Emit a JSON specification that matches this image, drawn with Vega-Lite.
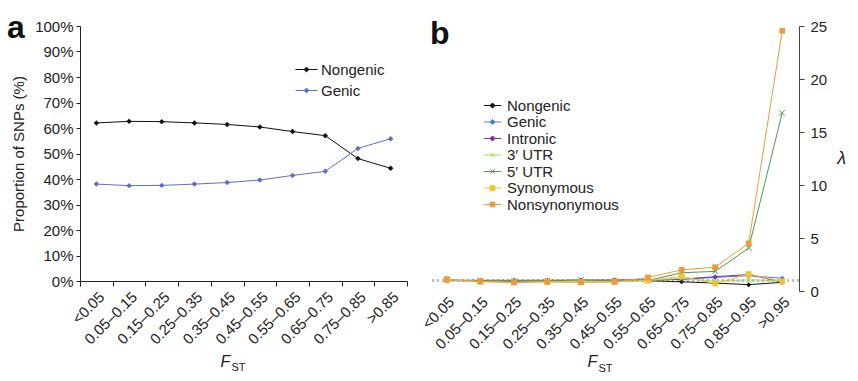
{
  "$schema": "https://vega.github.io/schema/vega-lite/v6.json",
  "background": "white",
  "padding": {"left": 7, "top": 12, "right": 5, "bottom": 5},
  "bounds": "flush",
  "spacing": 23,
  "config": {
    "font": "Liberation Sans",
    "view": {"stroke": null},
    "axis": {"labelFontSize": 15, "labelColor": "#222222", "titleColor": "#222222", "titleFontWeight": "normal", "titleFont": "Liberation Sans", "labelFont": "Liberation Sans", "domainColor": "#222222", "tickColor": "#222222", "grid": false, "labelOverlap": false, "labelFlush": false},
    "legend": {"labelFontSize": 15, "labelColor": "#222222", "labelFont": "Liberation Sans", "labelLimit": 300},
    "title": {"fontSize": 32, "fontWeight": "bold", "anchor": "start", "frame": "group", "color": "#111111", "font": "Liberation Sans"}
  },
  "resolve": {"scale": {"color": "independent", "x": "independent", "y": "independent"}},
  "hconcat": [
    {
      "title": {"text": "a", "dx": -73, "offset": -51, "baseline": "alphabetic"},
      "width": 327,
      "height": 255,
      "data": {"values": [
        {"bin": "<0.05", "series": "Nongenic", "pct": 62.0},
        {"bin": "0.05–0.15", "series": "Nongenic", "pct": 62.6},
        {"bin": "0.15–0.25", "series": "Nongenic", "pct": 62.5},
        {"bin": "0.25–0.35", "series": "Nongenic", "pct": 62.0},
        {"bin": "0.35–0.45", "series": "Nongenic", "pct": 61.4},
        {"bin": "0.45–0.55", "series": "Nongenic", "pct": 60.4},
        {"bin": "0.55–0.65", "series": "Nongenic", "pct": 58.6},
        {"bin": "0.65–0.75", "series": "Nongenic", "pct": 57.0},
        {"bin": "0.75–0.85", "series": "Nongenic", "pct": 48.0},
        {"bin": ">0.85", "series": "Nongenic", "pct": 44.2},
        {"bin": "<0.05", "series": "Genic", "pct": 38.0},
        {"bin": "0.05–0.15", "series": "Genic", "pct": 37.4},
        {"bin": "0.15–0.25", "series": "Genic", "pct": 37.5},
        {"bin": "0.25–0.35", "series": "Genic", "pct": 38.0},
        {"bin": "0.35–0.45", "series": "Genic", "pct": 38.6},
        {"bin": "0.45–0.55", "series": "Genic", "pct": 39.6},
        {"bin": "0.55–0.65", "series": "Genic", "pct": 41.4},
        {"bin": "0.65–0.75", "series": "Genic", "pct": 43.0},
        {"bin": "0.75–0.85", "series": "Genic", "pct": 52.0},
        {"bin": ">0.85", "series": "Genic", "pct": 55.8}
      ]},
      "resolve": {"axis": {"x": "independent"}},
      "encoding": {
        "y": {"field": "pct", "type": "quantitative", "scale": {"domain": [0, 100], "nice": false},
          "axis": {"values": [0, 10, 20, 30, 40, 50, 60, 70, 80, 90, 100], "labelOverlap": false, "labelSeparation": -20, "labelBound": false, "labelExpr": "datum.value + '%'", "tickSize": 4, "labelPadding": 3, "title": "Proportion of SNPs (%)", "titleFontSize": 15, "titlePadding": 8}},
        "color": {"field": "series", "type": "nominal", "scale": {"domain": ["Nongenic", "Genic"], "range": ["#111111", "#5b6fc6"]},
          "legend": {"orient": "none", "legendX": 218, "legendY": 35, "title": null, "symbolSize": 256, "labelOffset": 6, "rowPadding": 4,
            "encode": {"symbols": {"update": {
              "shape": {"value": "M-1.375,0H1.375M0,-0.3L0.3,0L0,0.3L-0.3,0Z"},
              "fill": {"signal": "datum.value === 'Genic' ? '#5b6fc6' : '#111111'"},
              "stroke": {"signal": "datum.value === 'Genic' ? '#5b6fc6' : '#111111'"},
              "strokeWidth": {"value": 1},
              "opacity": {"value": 1}}}}}}
      },
      "layer": [
        {
          "mark": {"type": "line", "strokeWidth": 1},
          "encoding": {
            "x": {"field": "bin", "type": "ordinal", "sort": ["<0.05", "0.05–0.15", "0.15–0.25", "0.25–0.35", "0.35–0.45", "0.45–0.55", "0.55–0.65", "0.65–0.75", "0.75–0.85", ">0.85"], "scale": {"type": "band", "paddingInner": 0, "paddingOuter": 0},
              "axis": {"orient": "bottom", "labelAngle": -45, "tickBand": "extent", "tickSize": 5, "labelPadding": 3, "labelOverlap": false, "title": "F", "titleFontStyle": "italic", "titleFontSize": 16, "titleX": 140, "titleY": 85, "titleAlign": "left", "titleBaseline": "alphabetic"}}
          }
        },
        {
          "mark": {"type": "point", "filled": true, "shape": "diamond", "size": 30, "opacity": 1},
          "encoding": {
            "x": {"field": "bin", "type": "ordinal", "sort": ["<0.05", "0.05–0.15", "0.15–0.25", "0.25–0.35", "0.35–0.45", "0.45–0.55", "0.55–0.65", "0.65–0.75", "0.75–0.85", ">0.85"], "scale": {"type": "band", "paddingInner": 0, "paddingOuter": 0}, "axis": null}
          }
        },
        {
          "mark": {"type": "point", "opacity": 0},
          "encoding": {
            "x": {"field": "bin", "type": "ordinal", "sort": ["<0.05", "0.05–0.15", "0.15–0.25", "0.25–0.35", "0.35–0.45", "0.45–0.55", "0.55–0.65", "0.65–0.75", "0.75–0.85", ">0.85"], "scale": {"type": "band", "paddingInner": 0, "paddingOuter": 0},
              "axis": {"orient": "bottom", "labels": false, "ticks": false, "domain": false, "title": "ST", "titleFontSize": 11, "titleX": 151, "titleY": 89, "titleAlign": "left", "titleBaseline": "alphabetic"}}
          }
        }
      ]
    },
    {
      "title": {"text": "b", "dx": 0, "offset": -57, "baseline": "alphabetic"},
      "width": 369,
      "height": 265,
      "data": {"values": [
        {"bin": "<0.05", "series": "Nongenic", "lambda": 1.0},
        {"bin": "0.05–0.15", "series": "Nongenic", "lambda": 1.0},
        {"bin": "0.15–0.25", "series": "Nongenic", "lambda": 1.0},
        {"bin": "0.25–0.35", "series": "Nongenic", "lambda": 1.0},
        {"bin": "0.35–0.45", "series": "Nongenic", "lambda": 1.0},
        {"bin": "0.45–0.55", "series": "Nongenic", "lambda": 1.0},
        {"bin": "0.55–0.65", "series": "Nongenic", "lambda": 0.97},
        {"bin": "0.65–0.75", "series": "Nongenic", "lambda": 0.87},
        {"bin": "0.75–0.85", "series": "Nongenic", "lambda": 0.75},
        {"bin": "0.85–0.95", "series": "Nongenic", "lambda": 0.6},
        {"bin": ">0.95", "series": "Nongenic", "lambda": 0.82},
        {"bin": "<0.05", "series": "Genic", "lambda": 1.0},
        {"bin": "0.05–0.15", "series": "Genic", "lambda": 1.0},
        {"bin": "0.15–0.25", "series": "Genic", "lambda": 1.0},
        {"bin": "0.25–0.35", "series": "Genic", "lambda": 1.0},
        {"bin": "0.35–0.45", "series": "Genic", "lambda": 1.0},
        {"bin": "0.45–0.55", "series": "Genic", "lambda": 1.02},
        {"bin": "0.55–0.65", "series": "Genic", "lambda": 1.03},
        {"bin": "0.65–0.75", "series": "Genic", "lambda": 1.1},
        {"bin": "0.75–0.85", "series": "Genic", "lambda": 1.28},
        {"bin": "0.85–0.95", "series": "Genic", "lambda": 1.45},
        {"bin": ">0.95", "series": "Genic", "lambda": 1.2},
        {"bin": "<0.05", "series": "Intronic", "lambda": 0.98},
        {"bin": "0.05–0.15", "series": "Intronic", "lambda": 0.98},
        {"bin": "0.15–0.25", "series": "Intronic", "lambda": 0.98},
        {"bin": "0.25–0.35", "series": "Intronic", "lambda": 1.0},
        {"bin": "0.35–0.45", "series": "Intronic", "lambda": 1.0},
        {"bin": "0.45–0.55", "series": "Intronic", "lambda": 1.03},
        {"bin": "0.55–0.65", "series": "Intronic", "lambda": 1.03},
        {"bin": "0.65–0.75", "series": "Intronic", "lambda": 1.12},
        {"bin": "0.75–0.85", "series": "Intronic", "lambda": 1.35},
        {"bin": "0.85–0.95", "series": "Intronic", "lambda": 1.55},
        {"bin": ">0.95", "series": "Intronic", "lambda": 0.85},
        {"bin": "<0.05", "series": "3′ UTR", "lambda": 1.0},
        {"bin": "0.05–0.15", "series": "3′ UTR", "lambda": 0.95},
        {"bin": "0.15–0.25", "series": "3′ UTR", "lambda": 0.93},
        {"bin": "0.25–0.35", "series": "3′ UTR", "lambda": 0.95},
        {"bin": "0.35–0.45", "series": "3′ UTR", "lambda": 1.02},
        {"bin": "0.45–0.55", "series": "3′ UTR", "lambda": 0.95},
        {"bin": "0.55–0.65", "series": "3′ UTR", "lambda": 1.0},
        {"bin": "0.65–0.75", "series": "3′ UTR", "lambda": 1.2},
        {"bin": "0.75–0.85", "series": "3′ UTR", "lambda": 0.92},
        {"bin": "0.85–0.95", "series": "3′ UTR", "lambda": 1.05},
        {"bin": ">0.95", "series": "3′ UTR", "lambda": 0.95},
        {"bin": "<0.05", "series": "5′ UTR", "lambda": 1.0},
        {"bin": "0.05–0.15", "series": "5′ UTR", "lambda": 0.95},
        {"bin": "0.15–0.25", "series": "5′ UTR", "lambda": 0.9},
        {"bin": "0.25–0.35", "series": "5′ UTR", "lambda": 0.95},
        {"bin": "0.35–0.45", "series": "5′ UTR", "lambda": 1.05},
        {"bin": "0.45–0.55", "series": "5′ UTR", "lambda": 0.95},
        {"bin": "0.55–0.65", "series": "5′ UTR", "lambda": 1.0},
        {"bin": "0.65–0.75", "series": "5′ UTR", "lambda": 1.72},
        {"bin": "0.75–0.85", "series": "5′ UTR", "lambda": 1.85},
        {"bin": "0.85–0.95", "series": "5′ UTR", "lambda": 4.05},
        {"bin": ">0.95", "series": "5′ UTR", "lambda": 16.8},
        {"bin": "<0.05", "series": "Synonymous", "lambda": 1.05},
        {"bin": "0.05–0.15", "series": "Synonymous", "lambda": 0.9},
        {"bin": "0.15–0.25", "series": "Synonymous", "lambda": 0.82},
        {"bin": "0.25–0.35", "series": "Synonymous", "lambda": 0.88},
        {"bin": "0.35–0.45", "series": "Synonymous", "lambda": 0.85},
        {"bin": "0.45–0.55", "series": "Synonymous", "lambda": 0.88},
        {"bin": "0.55–0.65", "series": "Synonymous", "lambda": 1.0},
        {"bin": "0.65–0.75", "series": "Synonymous", "lambda": 1.38},
        {"bin": "0.75–0.85", "series": "Synonymous", "lambda": 0.7},
        {"bin": "0.85–0.95", "series": "Synonymous", "lambda": 1.6},
        {"bin": ">0.95", "series": "Synonymous", "lambda": 0.9},
        {"bin": "<0.05", "series": "Nonsynonymous", "lambda": 1.13},
        {"bin": "0.05–0.15", "series": "Nonsynonymous", "lambda": 0.88},
        {"bin": "0.15–0.25", "series": "Nonsynonymous", "lambda": 0.8},
        {"bin": "0.25–0.35", "series": "Nonsynonymous", "lambda": 0.85},
        {"bin": "0.35–0.45", "series": "Nonsynonymous", "lambda": 0.82},
        {"bin": "0.45–0.55", "series": "Nonsynonymous", "lambda": 0.85},
        {"bin": "0.55–0.65", "series": "Nonsynonymous", "lambda": 1.28},
        {"bin": "0.65–0.75", "series": "Nonsynonymous", "lambda": 2.0},
        {"bin": "0.75–0.85", "series": "Nonsynonymous", "lambda": 2.25},
        {"bin": "0.85–0.95", "series": "Nonsynonymous", "lambda": 4.5},
        {"bin": ">0.95", "series": "Nonsynonymous", "lambda": 24.55}
      ]},
      "resolve": {"axis": {"x": "independent"}},
      "encoding": {
        "y": {"field": "lambda", "type": "quantitative", "scale": {"domain": [0, 25], "nice": false},
          "axis": {"orient": "right", "values": [0, 5, 10, 15, 20, 25], "labelOverlap": false, "tickSize": 5, "labelPadding": 6, "domainColor": "#444444", "tickColor": "#444444", "title": "λ", "titleAngle": 0, "titleFontSize": 18, "titleFontStyle": "italic", "titleAlign": "left", "titleBaseline": "middle", "titlePadding": 10}},
        "color": {"field": "series", "type": "nominal",
          "scale": {"domain": ["Nongenic", "Genic", "Intronic", "3′ UTR", "5′ UTR", "Synonymous", "Nonsynonymous"], "range": ["#111111", "#4a80d6", "#7b2fa6", "#a9d65a", "#4c9a4c", "#eec531", "#e89c3a"]},
          "legend": {"orient": "none", "legendX": 55, "legendY": 72, "title": null, "symbolSize": 196, "labelOffset": 7, "rowPadding": 0.5,
            "encode": {"symbols": {"update": {
              "shape": {"signal": "(datum.value === '3′ UTR' || datum.value === '5′ UTR') ? 'M-1.25,0H1.25M-0.3,-0.3L0.3,0.3M-0.3,0.3L0.3,-0.3' : ((datum.value === 'Synonymous' || datum.value === 'Nonsynonymous') ? 'M-1.25,0H1.25M-0.33,-0.33H0.33V0.33H-0.33Z' : 'M-1.25,0H1.25M0,-0.36L0.36,0L0,0.36L-0.36,0Z')"},
              "fill": {"signal": "['#111111', '#4a80d6', '#7b2fa6', '#a9d65a', '#4c9a4c', '#eec531', '#e89c3a'][datum.index]"},
              "stroke": {"signal": "['#111111', '#4a80d6', '#7b2fa6', '#a9d65a', '#4c9a4c', '#eec531', '#e89c3a'][datum.index]"},
              "strokeWidth": {"value": 1},
              "opacity": {"value": 1}}}}}}
      },
      "layer": [
        {
          "mark": {"type": "rule", "strokeDash": [2, 3], "color": "#bbbbbb", "strokeWidth": 1.5},
          "encoding": {"y": {"datum": 1}, "color": {"value": "#bbbbbb"}}
        },
        {
          "mark": {"type": "line", "strokeWidth": 1},
          "encoding": {
            "x": {"field": "bin", "type": "ordinal", "sort": ["<0.05", "0.05–0.15", "0.15–0.25", "0.25–0.35", "0.35–0.45", "0.45–0.55", "0.55–0.65", "0.65–0.75", "0.75–0.85", "0.85–0.95", ">0.95"], "scale": {"type": "band", "paddingInner": 0, "paddingOuter": 0},
              "axis": {"orient": "bottom", "labelAngle": -45, "domain": false, "ticks": false, "labelPadding": 3, "labelOverlap": false, "title": "F", "titleFontStyle": "italic", "titleFontSize": 16, "titleX": 157, "titleY": 75, "titleAlign": "left", "titleBaseline": "alphabetic"}}
          }
        },
        {
          "transform": [{"filter": {"field": "series", "oneOf": ["Nongenic", "Genic", "Intronic"]}}],
          "mark": {"type": "point", "filled": true, "shape": "diamond", "size": 25, "opacity": 1},
          "encoding": {
            "x": {"field": "bin", "type": "ordinal", "sort": ["<0.05", "0.05–0.15", "0.15–0.25", "0.25–0.35", "0.35–0.45", "0.45–0.55", "0.55–0.65", "0.65–0.75", "0.75–0.85", "0.85–0.95", ">0.95"], "scale": {"type": "band", "paddingInner": 0, "paddingOuter": 0}, "axis": null}
          }
        },
        {
          "transform": [{"filter": {"field": "series", "oneOf": ["3′ UTR", "5′ UTR"]}}],
          "mark": {"type": "point", "filled": false, "shape": "M-1,-1L1,1M-1,1L1,-1", "size": 30, "opacity": 1, "strokeWidth": 1},
          "encoding": {
            "x": {"field": "bin", "type": "ordinal", "sort": ["<0.05", "0.05–0.15", "0.15–0.25", "0.25–0.35", "0.35–0.45", "0.45–0.55", "0.55–0.65", "0.65–0.75", "0.75–0.85", "0.85–0.95", ">0.95"], "scale": {"type": "band", "paddingInner": 0, "paddingOuter": 0}, "axis": null}
          }
        },
        {
          "transform": [{"filter": {"field": "series", "oneOf": ["Synonymous", "Nonsynonymous"]}}],
          "mark": {"type": "point", "filled": true, "shape": "square", "size": 32, "opacity": 1},
          "encoding": {
            "x": {"field": "bin", "type": "ordinal", "sort": ["<0.05", "0.05–0.15", "0.15–0.25", "0.25–0.35", "0.35–0.45", "0.45–0.55", "0.55–0.65", "0.65–0.75", "0.75–0.85", "0.85–0.95", ">0.95"], "scale": {"type": "band", "paddingInner": 0, "paddingOuter": 0}, "axis": null}
          }
        },
        {
          "mark": {"type": "point", "opacity": 0},
          "encoding": {
            "x": {"field": "bin", "type": "ordinal", "sort": ["<0.05", "0.05–0.15", "0.15–0.25", "0.25–0.35", "0.35–0.45", "0.45–0.55", "0.55–0.65", "0.65–0.75", "0.75–0.85", "0.85–0.95", ">0.95"], "scale": {"type": "band", "paddingInner": 0, "paddingOuter": 0},
              "axis": {"orient": "bottom", "labels": false, "ticks": false, "domain": false, "title": "ST", "titleFontSize": 11, "titleX": 168, "titleY": 80, "titleAlign": "left", "titleBaseline": "alphabetic"}},
            "color": {"value": "#000000"}
          }
        }
      ]
    }
  ]
}
